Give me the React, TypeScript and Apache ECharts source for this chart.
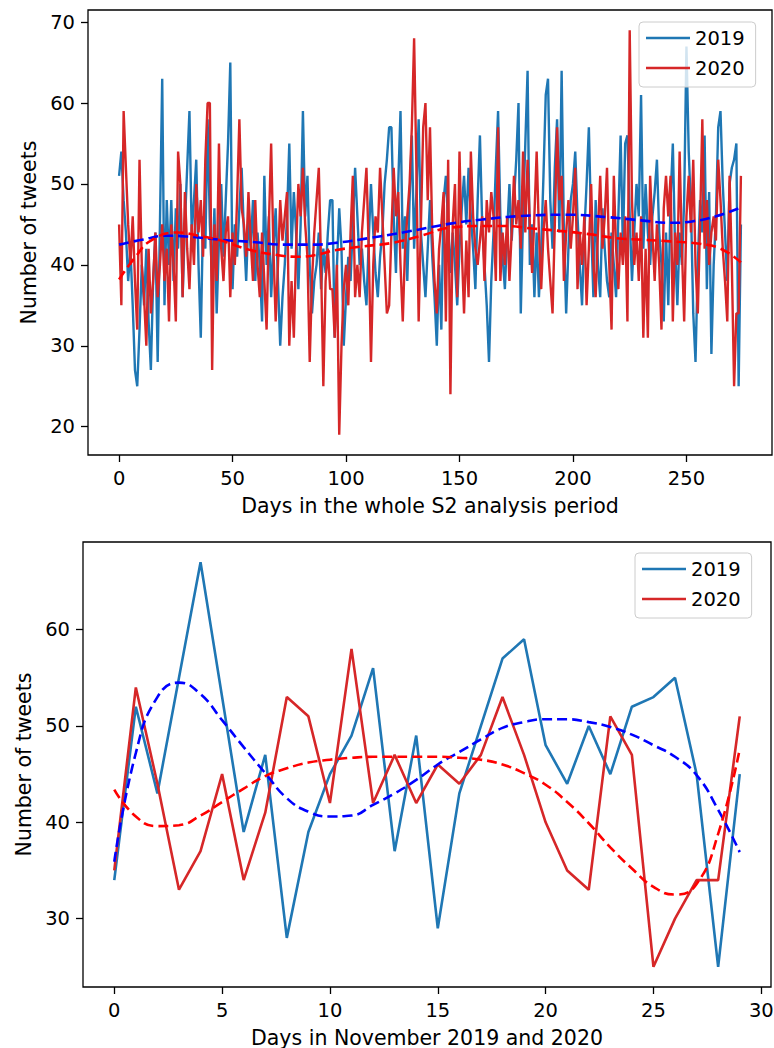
import React, { useEffect, useRef } from "react";
import * as echarts from "echarts";

// ---------- Top chart: whole S2 analysis period (days 0..274) ----------
const tweets2019All = [
  51, 54, 48, 44, 38, 42, 35, 27, 25, 32,
  40, 35, 42, 33, 27, 38, 44, 28, 45, 63,
  35, 48, 40, 48, 38, 47, 42, 50, 36, 45,
  52, 59, 44, 48, 53, 40, 31, 46, 42, 58,
  45, 38, 47, 34, 43, 50, 41, 48, 55, 65,
  37, 45, 41, 47, 52, 44, 38, 46, 42, 48,
  38, 44, 40, 33, 51, 40, 46, 36, 42, 47,
  38, 30, 36, 40, 46, 55, 42, 49, 44, 37,
  45, 59, 46, 51, 40, 34, 38, 40, 44, 37,
  42, 39, 44, 48, 48, 31, 40, 47, 42, 30,
  36, 41, 38, 45, 52, 46, 40, 42, 38, 35,
  43, 50, 44, 39, 36, 41, 44, 50, 53, 57,
  57, 46, 39, 50, 59, 42, 46, 38, 48, 56,
  42, 49, 58, 44, 40, 36, 42, 48, 41, 36,
  30, 40, 32, 48, 51, 45, 39, 44, 40, 35,
  42, 47, 51, 45, 52, 46, 42, 37, 48, 56,
  45, 40, 35, 28, 38, 44, 52, 59, 46, 41,
  37, 44, 50, 43, 48, 53, 60, 34, 46, 55,
  64, 40, 45, 36, 44, 36, 42, 51, 61, 63,
  48, 42, 52, 58, 44, 64, 44, 34, 42, 48,
  50, 54, 46, 40, 35, 44, 50, 57, 45, 36,
  48, 40, 36, 47, 42, 38, 36, 44, 40, 36,
  46, 56, 42, 55, 56, 46, 38, 44, 50, 46,
  61, 42, 50, 44, 40, 46, 49, 53, 44, 40,
  33, 44, 35, 48, 55, 42, 35, 44, 40, 48,
  67, 54, 47, 34, 28, 40, 48, 44, 56, 37,
  49, 29, 40, 46, 57, 59, 50, 44, 38, 50,
  52, 53, 55, 25, 45,
];

const tweets2020All = [
  45, 35, 59, 52, 45, 40, 46, 38, 32, 53,
  40, 36, 30, 42, 34, 38, 44, 36, 40, 45,
  38, 42, 33, 45, 40, 33, 54, 50, 36, 49,
  42, 37, 45, 40, 50, 44, 48, 41, 53, 60,
  60, 27, 45, 38, 55, 42, 38, 44, 46, 36,
  44, 40, 48, 58, 47, 45, 41, 49, 43, 38,
  48, 40, 36, 44, 38, 32, 45, 55, 42, 33,
  40, 48, 43, 46, 49, 30, 38, 31, 42, 50,
  46, 52, 45, 41, 28, 38, 44, 48, 52, 40,
  25, 38, 42, 37, 37, 31, 40, 19, 30, 37,
  40, 35, 44, 51, 36, 40, 36, 44, 48, 52,
  42, 28, 40, 46, 44, 52, 46, 40, 34, 35,
  44, 52, 46, 49, 40, 33, 42, 46, 50, 57,
  68, 52, 33, 45, 57, 60, 48, 57, 44, 38,
  34, 42, 45, 49, 33, 53, 24, 45, 50, 36,
  54, 42, 34, 43, 36, 54, 46, 42, 40, 43,
  46, 38, 48, 44, 49, 46, 38, 57, 38, 44,
  40, 46, 38, 44, 51, 45, 48, 42, 54, 44,
  53, 45, 39, 46, 54, 44, 37, 44, 48, 42,
  38, 34, 45, 57, 48, 51, 38, 44, 48, 42,
  46, 52, 37, 44, 40, 46, 35, 42, 50, 40,
  36, 44, 51, 42, 46, 52, 40, 32, 51, 42,
  37, 44, 40, 46, 33, 69, 48, 40, 44, 38,
  46, 31, 42, 31, 51, 44, 38, 45, 40, 32,
  47, 51, 46, 51, 33, 44, 40, 54, 42, 33,
  46, 51, 44, 53, 40, 34, 45, 58, 42, 48,
  40, 44, 46, 43, 53, 48, 42, 38, 33, 51,
  40, 25, 34, 34, 51,
];

// trend lines read at sample days: [day, value]
const trend2019All = [
  [0, 42.5], [10, 43.1], [21, 43.6], [30, 43.5], [45, 43.1], [60, 42.8],
  [72, 42.5], [85, 42.5], [95, 42.7], [110, 43.3], [125, 44.0], [146, 45.1],
  [160, 45.6], [175, 46.0], [197, 46.2], [215, 45.9], [230, 45.5], [243, 45.2],
  [253, 45.4], [263, 46.0], [274, 47.1],
];
const trend2020All = [
  [0, 38.2], [7, 40.9], [14, 43.0], [26, 44.0], [35, 43.6], [45, 43.0],
  [57, 41.9], [70, 41.2], [79, 41.0], [88, 41.3], [95, 41.8], [108, 42.3],
  [120, 42.7], [133, 43.6], [146, 44.6], [158, 44.8], [170, 44.8], [182, 44.5],
  [194, 44.2], [207, 43.8], [219, 43.3], [231, 43.1], [243, 42.9], [256, 42.6],
  [265, 42.0], [274, 40.3],
];

// ---------- Bottom chart: November (days 0..29) ----------
const nov2019 = [
  34, 52, 43, 55, 67, 53, 39, 47, 28, 39,
  45, 49, 56, 37, 49, 29, 43, 50, 57, 59,
  48, 44, 50, 45, 52, 53, 55, 45, 25, 45,
];
const nov2020 = [
  35, 54, 44, 33, 37, 45, 34, 41, 53, 51,
  42, 58, 42, 47, 42, 46, 44, 47, 53, 47,
  40, 35, 33, 51, 47, 25, 30, 34, 34, 51,
];
const novTrend2019 = [
  35.9, 47.2, 53.0, 54.5, 53.3, 50.6, 47.8, 45.1, 42.5, 41.1,
  40.6, 40.7, 41.8, 43.0, 44.4, 46.0, 47.3, 48.6, 49.8, 50.4,
  50.7, 50.7, 50.4, 49.9, 49.1, 48.0, 46.8, 44.9, 41.3, 36.9,
];
const novTrend2020 = [
  43.4, 40.6, 39.6, 39.7, 40.7, 42.1, 43.5, 44.8, 45.6, 46.2,
  46.5, 46.7, 46.8, 46.8, 46.8, 46.8, 46.7, 46.5, 46.0, 45.1,
  43.9, 42.1, 39.9, 37.4, 35.2, 33.3, 32.5, 33.6, 38.8, 47.6,
];

const topXTicks = [0, 50, 100, 150, 200, 250];
const topYTicks = [20, 30, 40, 50, 60, 70];
const botXTicks = [0, 5, 10, 15, 20, 25, 30];
const botYTicks = [30, 40, 50, 60];
const legendNames = ["2019", "2020"];

const FONT = "DejaVu Sans";
const C2019 = "#1f77b4";
const C2020 = "#d62728";

function App() {
  const ref = useRef<HTMLDivElement>(null);

  useEffect(() => {
    document.body.style.margin = "0";
    if (!ref.current) return;
    const chart = echarts.init(ref.current, null, { renderer: "svg" });

    const xy = (arr: number[]) => arr.map((v, i) => [i, v]);

    const axisCommon = (ticks: number[]) => ({
      axisLine: { show: false, onZero: false },
      axisTick: {
        show: true,
        length: 7,
        customValues: ticks,
        lineStyle: { color: "#000", width: 1.3 },
      },
      axisLabel: {
        customValues: ticks,
        fontSize: 19.5,
        color: "#000",
        fontFamily: FONT,
        margin: 13,
      },
      splitLine: { show: false },
      nameLocation: "middle" as const,
      nameTextStyle: { fontSize: 20.5, color: "#000", fontFamily: FONT },
    });

    const legendCommon = {
      orient: "vertical" as const,
      data: legendNames,
      icon: "rect",
      itemWidth: 44,
      itemHeight: 2.6,
      itemGap: 10,
      itemTextGap: 16,
      padding: [6, 11, 9, 7],
      backgroundColor: "rgba(255,255,255,0.8)",
      borderColor: "#cccccc",
      borderWidth: 1,
      borderRadius: 4,
      selectedMode: false,
      textStyle: { fontSize: 19.5, color: "#000", fontFamily: FONT, lineHeight: 20 },
    };

    const solid = (name: string, data: any, color: string, idx: number, width: number) => ({
      name,
      type: "line",
      xAxisIndex: idx,
      yAxisIndex: idx,
      data,
      showSymbol: false,
      symbol: "none",
      lineStyle: { color, width },
      itemStyle: { color },
      clip: true,
    });

    const dashed = (name: string, data: any, color: string, idx: number) => ({
      name,
      type: "line",
      xAxisIndex: idx,
      yAxisIndex: idx,
      data,
      smooth: true,
      showSymbol: false,
      symbol: "none",
      lineStyle: { color, width: 2.6, type: [10, 5] },
      itemStyle: { color },
      clip: true,
    });

    chart.setOption({
      animation: false,
      backgroundColor: "#ffffff",
      textStyle: { fontFamily: FONT },
      grid: [
        {
          left: 88, top: 10, width: 684, height: 445,
          show: true, borderColor: "#000", borderWidth: 1.3,
          containLabel: false, outerBoundsMode: "none",
        },
        {
          left: 83, top: 542, width: 688, height: 445,
          show: true, borderColor: "#000", borderWidth: 1.3,
          containLabel: false, outerBoundsMode: "none",
        },
      ],
      legend: [
        { ...legendCommon, left: 639, top: 22 },
        { ...legendCommon, left: 635, top: 553 },
      ],
      xAxis: [
        {
          type: "value", gridIndex: 0, min: -13.7, max: 287.7,
          ...axisCommon(topXTicks),
          name: "Days in the whole S2 analysis period", nameGap: 40,
        },
        {
          type: "value", gridIndex: 1, min: -1.45, max: 30.45,
          ...axisCommon(botXTicks),
          name: "Days in November 2019 and 2020", nameGap: 40,
        },
      ],
      yAxis: [
        {
          type: "value", gridIndex: 0, min: 16.5, max: 71.5,
          ...axisCommon(topYTicks),
          name: "Number of tweets", nameGap: 48,
        },
        {
          type: "value", gridIndex: 1, min: 22.9, max: 69.1,
          ...axisCommon(botYTicks),
          name: "Number of tweets", nameGap: 49,
        },
      ],
      series: [
        solid("2019", xy(tweets2019All), C2019, 0, 2.4),
        solid("2020", xy(tweets2020All), C2020, 0, 2.4),
        dashed("trend2019All", trend2019All, "#0000ff", 0),
        dashed("trend2020All", trend2020All, "#ff0000", 0),
        solid("2019", xy(nov2019), C2019, 1, 2.6),
        solid("2020", xy(nov2020), C2020, 1, 2.6),
        dashed("trend2019Nov", xy(novTrend2019), "#0000ff", 1),
        dashed("trend2020Nov", xy(novTrend2020), "#ff0000", 1),
      ],
    });

    return () => {
      chart.dispose();
    };
  }, []);

  return <div ref={ref} style={{ width: 774, height: 1048 }} />;
}

export default App;
